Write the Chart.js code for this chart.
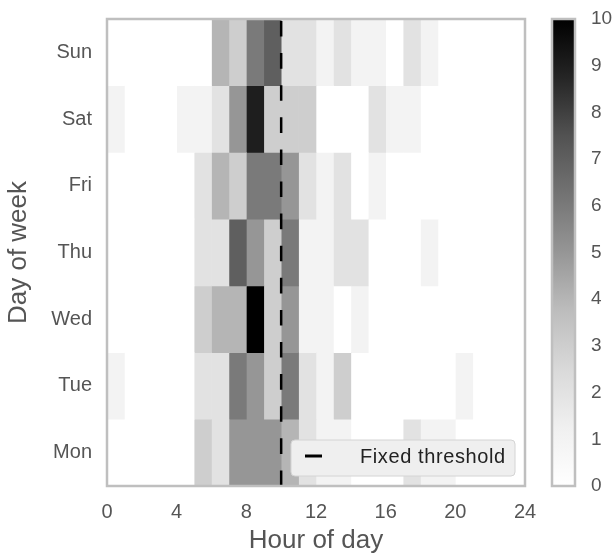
<!DOCTYPE html>
<html>
<head>
<meta charset="utf-8">
<script src="https://cdn.jsdelivr.net/npm/chart.js@4.4.1/dist/chart.umd.min.js"></script>
<style>
  html, body { margin: 0; padding: 0; background: #fff; }
  #wrap { width: 614px; height: 558px; }
</style>
</head>
<body>
<div id="wrap"><canvas id="heatmap" width="614" height="558"></canvas></div>
<script>
// categories
let days = ['Mon', 'Tue', 'Wed', 'Thu', 'Fri', 'Sat', 'Sun'];
let hours = [0, 1, 2, 3, 4, 5, 6, 7, 8, 9, 10, 11, 12, 13, 14, 15, 16, 17, 18, 19, 20, 21, 22, 23];
let xTicks = [0, 4, 8, 12, 16, 20, 24];
let cbTicks = [0, 1, 2, 3, 4, 5, 6, 7, 8, 9, 10];
let threshold = 10;

// counts per hour, one list per day
let mon = [0, 0, 0, 0, 0, 3, 2, 5, 5, 5, 4, 2, 1, 1, 0, 0, 0, 2, 1, 1, 0, 0, 0, 0];
let tue = [1, 0, 0, 0, 0, 2, 2, 6, 5, 3, 6, 2, 1, 3, 0, 0, 0, 0, 0, 0, 1, 0, 0, 0];
let wed = [0, 0, 0, 0, 0, 3, 4, 4, 10, 3, 5, 1, 1, 0, 1, 0, 0, 0, 0, 0, 0, 0, 0, 0];
let thu = [0, 0, 0, 0, 0, 2, 2, 7, 5, 3, 6, 1, 1, 2, 2, 0, 0, 0, 1, 0, 0, 0, 0, 0];
let fri = [0, 0, 0, 0, 0, 2, 4, 3, 6, 6, 5, 2, 1, 2, 0, 1, 0, 0, 0, 0, 0, 0, 0, 0];
let sat = [1, 0, 0, 0, 1, 1, 2, 5, 9, 3, 3, 3, 0, 0, 0, 2, 1, 1, 0, 0, 0, 0, 0, 0];
let sun = [0, 0, 0, 0, 0, 0, 4, 3, 6, 7, 2, 2, 1, 2, 1, 1, 0, 2, 1, 0, 0, 0, 0, 0];

let grid = [mon, tue, wed, thu, fri, sat, sun];
let vmax = cbTicks[cbTicks.length - 1];

// matplotlib "Greys" levels at 0, 1/8 ... 1
let greyLevels = [1.0, 0.941, 0.851, 0.741, 0.588, 0.451, 0.322, 0.145, 0.0];

function greys(v) {
  let t = Math.max(0, Math.min(1, v / vmax)) * 8;
  let i = Math.min(7, Math.floor(t));
  let g = greyLevels[i] + (greyLevels[i + 1] - greyLevels[i]) * (t - i);
  let c = Math.round(g * 255);
  return 'rgb(' + c + ',' + c + ',' + c + ')';
}

let datasets = hours.map(function (h) {
  return {
    label: 'h' + h,
    data: days.map(function () { return [h, h + 1]; }),
    backgroundColor: grid.map(function (row) { return greys(row[h]); }),
    borderWidth: 0,
    grouped: false,
    categoryPercentage: 1,
    barPercentage: 1
  };
});

const FONT = "'Liberation Sans', Arial, sans-serif";
const FRAME = '#bfbfbf';

// keep label padding from pushing the plot area around
function fixSize(key, size) {
  return function (scale) {
    scale[key] = size;
    scale.paddingTop = 0;
    scale.paddingBottom = 0;
    scale.paddingLeft = 0;
    scale.paddingRight = 0;
  };
}

let extras = {
  id: 'extras',
  afterDatasetsDraw(chart) {
    let ctx = chart.ctx;
    let a = chart.chartArea;
    let px = chart.scales.x.getPixelForValue(threshold);

    // threshold line
    ctx.save();
    ctx.strokeStyle = '#000';
    ctx.lineWidth = 2.5;
    ctx.setLineDash([15.6, 16.5]);
    ctx.beginPath();
    ctx.moveTo(px, a.bottom);
    ctx.lineTo(px, a.top);
    ctx.stroke();
    ctx.restore();

    // plot frame
    ctx.save();
    ctx.strokeStyle = FRAME;
    ctx.lineWidth = 2.5;
    ctx.strokeRect(a.left, a.top, a.right - a.left, a.bottom - a.top);
    ctx.restore();

    // legend box
    let w = 224, hgt = 36;
    let lx = a.right - 10 - w, ly = a.bottom - 10 - hgt;
    ctx.save();
    ctx.beginPath();
    ctx.roundRect(lx, ly, w, hgt, 4);
    ctx.fillStyle = '#efefef';
    ctx.fill();
    ctx.strokeStyle = '#d4d4d4';
    ctx.lineWidth = 1;
    ctx.stroke();
    ctx.strokeStyle = '#000';
    ctx.lineWidth = 3;
    ctx.beginPath();
    ctx.moveTo(lx + 14, ly + 16);
    ctx.lineTo(lx + 31, ly + 16);
    ctx.stroke();
    ctx.fillStyle = '#222';
    ctx.font = '20px ' + FONT;
    ctx.letterSpacing = '0.6px';
    ctx.textBaseline = 'middle';
    ctx.textAlign = 'left';
    ctx.fillText('Fixed threshold', lx + 69, ly + 17);
    ctx.restore();
  },
  afterDraw(chart) {
    // colour bar next to its own axis
    let ctx = chart.ctx;
    let s = chart.scales.cb;
    let x0 = s.left + 27, bw = 23;
    let top = s.getPixelForValue(vmax), bot = s.getPixelForValue(0);
    let grad = ctx.createLinearGradient(0, bot, 0, top);
    greyLevels.forEach(function (g, i) {
      let c = Math.round(g * 255);
      grad.addColorStop(i / 8, 'rgb(' + c + ',' + c + ',' + c + ')');
    });
    ctx.save();
    ctx.fillStyle = grad;
    ctx.fillRect(x0, top, bw, bot - top);
    ctx.strokeStyle = FRAME;
    ctx.lineWidth = 2.5;
    ctx.strokeRect(x0, top, bw, bot - top);
    ctx.restore();
  }
};

const ctx = document.getElementById('heatmap').getContext('2d');
new Chart(ctx, {
  type: 'bar',
  data: { labels: days, datasets: datasets },
  options: {
    responsive: false,
    animation: false,
    devicePixelRatio: 1,
    indexAxis: 'y',
    layout: { padding: { top: 19, left: 0, right: 0, bottom: 0 } },
    plugins: { legend: { display: false }, tooltip: { enabled: false } },
    scales: {
      x: {
        type: 'linear',
        min: 0,
        max: 24,
        afterFit: fixSize('height', 72),
        afterBuildTicks: function (scale) {
          scale.ticks = xTicks.map(function (v) { return { value: v }; });
        },
        grid: { display: false, drawTicks: false },
        border: { display: false },
        ticks: { color: '#555', padding: 14, font: { family: FONT, size: 20 } },
        title: {
          display: true, text: 'Hour of day', color: '#555',
          font: { family: FONT, size: 26, lineHeight: 1 },
          padding: { top: 0, bottom: 4 }
        }
      },
      y: {
        type: 'category',
        reverse: true,
        afterFit: fixSize('width', 107),
        grid: { display: false, drawTicks: false },
        border: { display: false },
        ticks: { color: '#555', padding: 15, font: { family: FONT, size: 20 } },
        title: {
          display: true, text: 'Day of week', color: '#555',
          font: { family: FONT, size: 26, lineHeight: 1 },
          padding: { top: 6, bottom: 0 }
        }
      },
      cb: {
        type: 'linear',
        position: 'right',
        offset: false,
        min: 0,
        max: vmax,
        afterFit: fixSize('width', 89),
        afterBuildTicks: function (scale) {
          scale.ticks = cbTicks.map(function (v) { return { value: v }; });
        },
        grid: { display: false, drawTicks: false, offset: false },
        border: { display: false },
        ticks: { color: '#555', padding: 66, font: { family: FONT, size: 19 } }
      }
    }
  },
  plugins: [extras]
});
</script>
</body>
</html>
